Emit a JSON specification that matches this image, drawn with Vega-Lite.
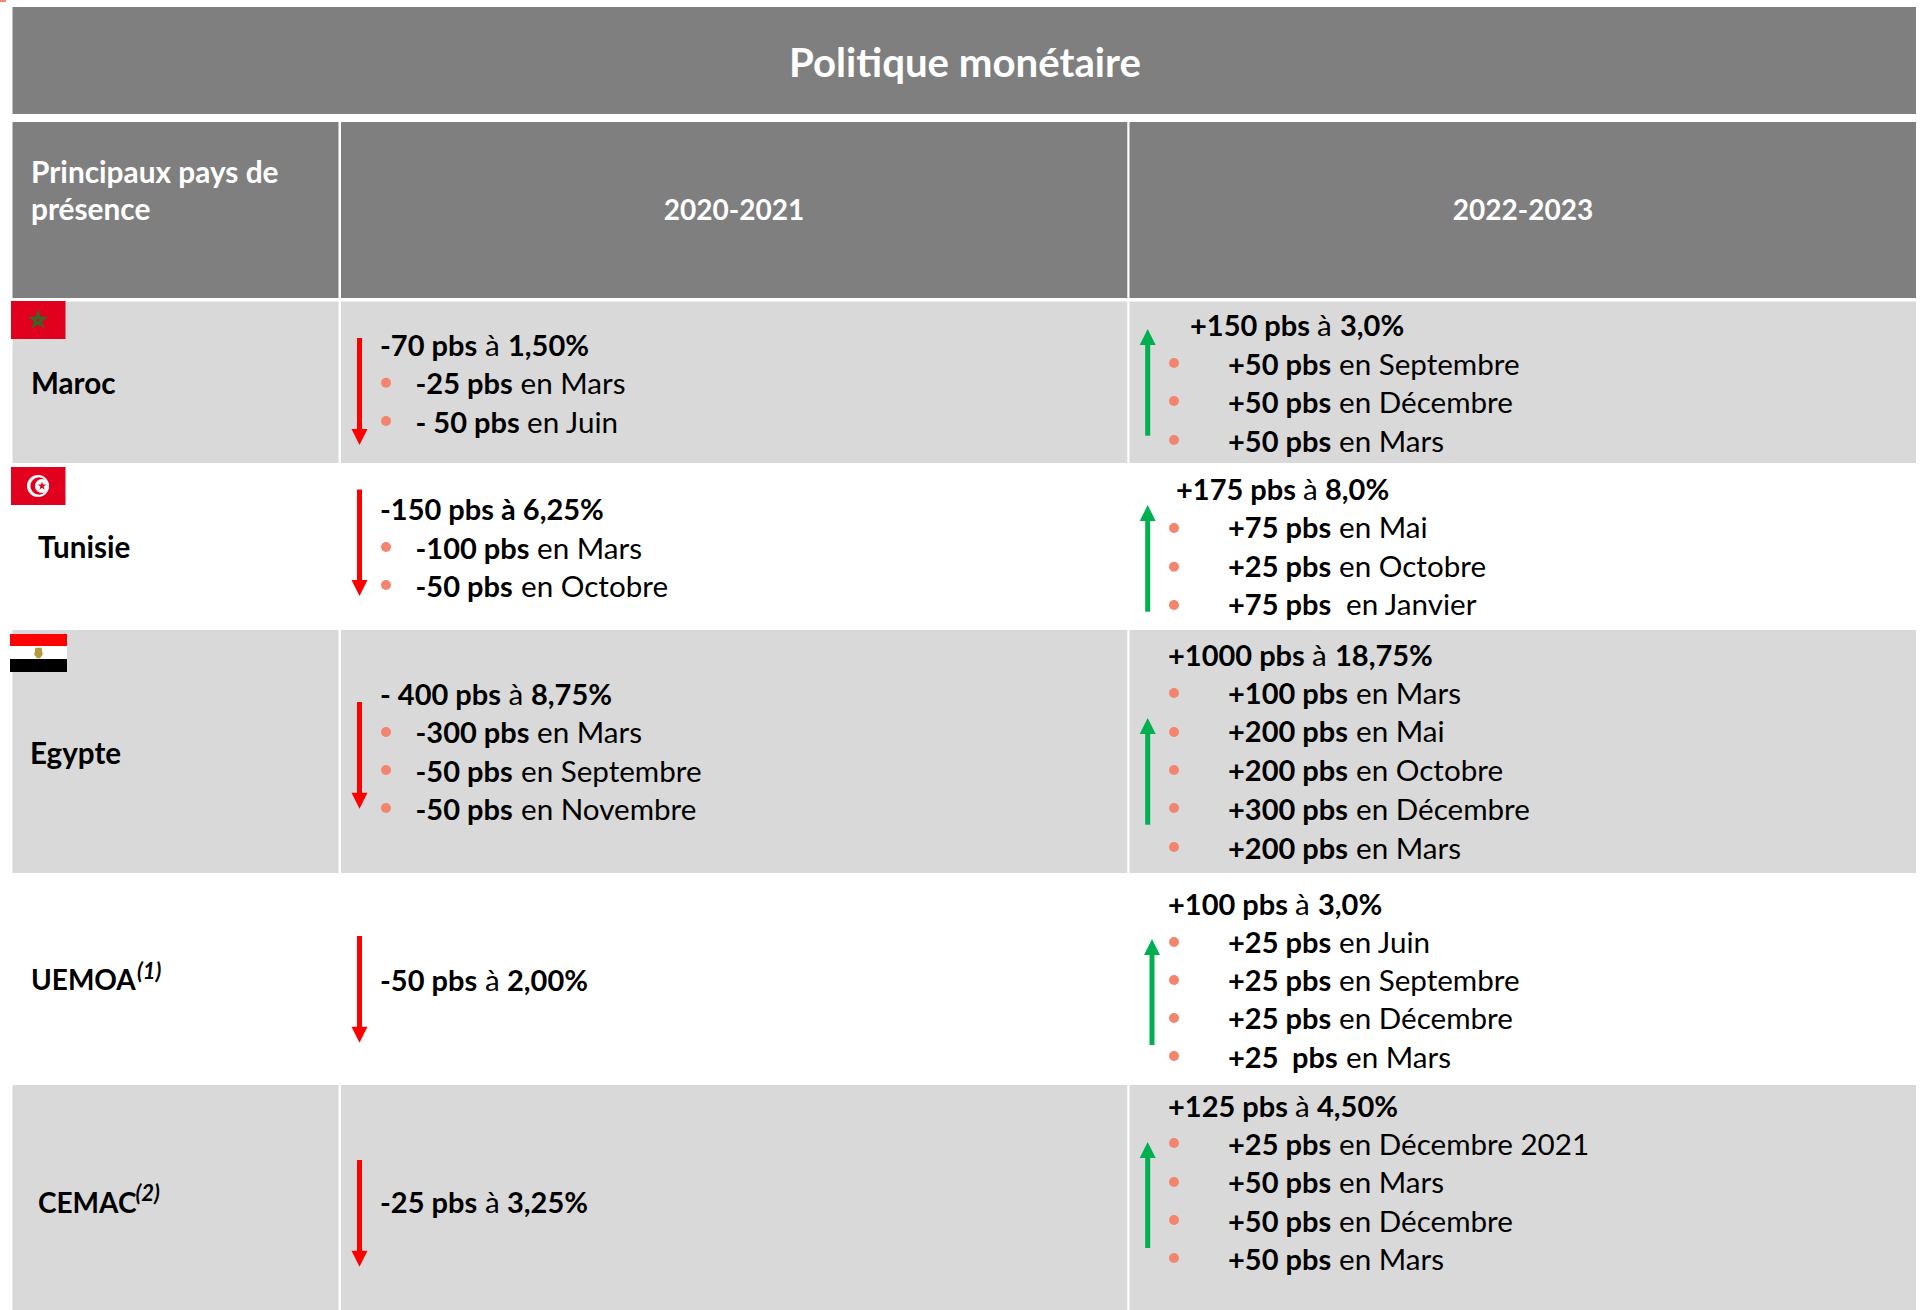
{
"$schema":"https://vega.github.io/schema/vega-lite/v6.json",
"width":1921,"height":1310,"padding":0,
"autosize":{"type":"fit","contains":"padding"},
"background":"#ffffff",
"config":{"view":{"stroke":null},"text":{"font":"Lato"}},
"resolve":{"scale":{"color":"independent","shape":"independent"}},
"datasets":{
"cells":[
{"kind":"header","x":12.5,"x2":1916,"y":7,"y2":114},
{"kind":"header","x":12.5,"x2":338.5,"y":122,"y2":298},
{"kind":"header","x":341,"x2":1127.3,"y":122,"y2":298},
{"kind":"header","x":1129.5,"x2":1916,"y":122,"y2":298},
{"kind":"band","x":12.5,"x2":338.5,"y":301.5,"y2":463},
{"kind":"band","x":341,"x2":1127.3,"y":301.5,"y2":463},
{"kind":"band","x":1129.5,"x2":1916,"y":301.5,"y2":463},
{"kind":"band","x":12.5,"x2":338.5,"y":630,"y2":873},
{"kind":"band","x":341,"x2":1127.3,"y":630,"y2":873},
{"kind":"band","x":1129.5,"x2":1916,"y":630,"y2":873},
{"kind":"band","x":12.5,"x2":338.5,"y":1085,"y2":1310},
{"kind":"band","x":341,"x2":1127.3,"y":1085,"y2":1310},
{"kind":"band","x":1129.5,"x2":1916,"y":1085,"y2":1310},
{"kind":"crimson","x":11,"x2":65.5,"y":301,"y2":339},
{"kind":"crimson","x":11,"x2":65.5,"y":467,"y2":505},
{"kind":"red","x":10,"x2":67,"y":634,"y2":646},
{"kind":"white","x":10,"x2":67,"y":646,"y2":659},
{"kind":"black","x":10,"x2":67,"y":659,"y2":672},
{"kind":"corner","x":0,"x2":6,"y":0,"y2":2}
],
"shafts":[
{"dir":"down","x":359.5,"y":338,"y2":432},
{"dir":"down","x":359.5,"y":489.5,"y2":583},
{"dir":"down","x":359.5,"y":702,"y2":796},
{"dir":"down","x":359.5,"y":936,"y2":1030},
{"dir":"down","x":359.5,"y":1160,"y2":1254},
{"dir":"up","x":1147.7,"y":435.7,"y2":342},
{"dir":"up","x":1147.7,"y":611.7,"y2":518},
{"dir":"up","x":1147.7,"y":824.7,"y2":731},
{"dir":"up","x":1152,"y":1045,"y2":952},
{"dir":"up","x":1147.7,"y":1248,"y2":1155}
],
"heads":[
{"dir":"down","x":359.5,"y":445},
{"dir":"down","x":359.5,"y":596},
{"dir":"down","x":359.5,"y":808.7},
{"dir":"down","x":359.5,"y":1042.7},
{"dir":"down","x":359.5,"y":1266.7},
{"dir":"up","x":1147.7,"y":329},
{"dir":"up","x":1147.7,"y":505},
{"dir":"up","x":1147.7,"y":718},
{"dir":"up","x":1152,"y":939},
{"dir":"up","x":1147.7,"y":1142}
],
"bullets":[
{"x":386,"y":382.7},{"x":386,"y":421},{"x":386,"y":547},{"x":386,"y":585},{"x":386,"y":732},{"x":386,"y":770},{"x":386,"y":808},
{"x":1174,"y":363},{"x":1174,"y":401},{"x":1174,"y":440},{"x":1174,"y":528},{"x":1174,"y":566.7},{"x":1174,"y":605},
{"x":1174,"y":693},{"x":1174,"y":732},{"x":1174,"y":770},{"x":1174,"y":808},{"x":1174,"y":847},
{"x":1174,"y":942},{"x":1174,"y":980},{"x":1174,"y":1018},{"x":1174,"y":1056},
{"x":1174,"y":1143},{"x":1174,"y":1182},{"x":1174,"y":1220},{"x":1174,"y":1258}
],
"bold":[
{"x":381,"y":356,"t":"-70 pbs"},{"x":509,"y":356,"t":"1,50%"},
{"x":416.5,"y":394,"t":"-25 pbs"},{"x":416.5,"y":433,"t":"- 50 pbs"},
{"x":381,"y":520,"t":"-150 pbs à 6,25%"},
{"x":416.5,"y":559,"t":"-100 pbs"},{"x":416.5,"y":597,"t":"-50 pbs"},
{"x":381,"y":705,"t":"- 400 pbs"},{"x":532,"y":705,"t":"8,75%"},
{"x":416.5,"y":743,"t":"-300 pbs"},{"x":416.5,"y":782,"t":"-50 pbs"},{"x":416.5,"y":820,"t":"-50 pbs"},
{"x":381,"y":991,"t":"-50 pbs"},{"x":508,"y":991,"t":"2,00%"},
{"x":381,"y":1213,"t":"-25 pbs"},{"x":508,"y":1213,"t":"3,25%"},
{"x":1191,"y":336,"t":"+150 pbs"},{"x":1341,"y":336,"t":"3,0%"},
{"x":1229,"y":375,"t":"+50 pbs"},{"x":1229,"y":413,"t":"+50 pbs"},{"x":1229,"y":452,"t":"+50 pbs"},
{"x":1177,"y":500,"t":"+175 pbs"},{"x":1326,"y":500,"t":"8,0%"},
{"x":1229,"y":538,"t":"+75 pbs"},{"x":1229,"y":577,"t":"+25 pbs"},{"x":1229,"y":615,"t":"+75 pbs"},
{"x":1169,"y":666,"t":"+1000 pbs"},{"x":1336,"y":666,"t":"18,75%"},
{"x":1229,"y":704,"t":"+100 pbs"},{"x":1229,"y":742,"t":"+200 pbs"},{"x":1229,"y":781,"t":"+200 pbs"},{"x":1229,"y":819.5,"t":"+300 pbs"},{"x":1229,"y":858.5,"t":"+200 pbs"},
{"x":1169,"y":915,"t":"+100 pbs"},{"x":1319,"y":915,"t":"3,0%"},
{"x":1229,"y":953,"t":"+25 pbs"},{"x":1229,"y":991,"t":"+25 pbs"},{"x":1229,"y":1029,"t":"+25 pbs"},{"x":1229,"y":1068,"t":"+25"},{"x":1293,"y":1068,"t":"pbs"},
{"x":1169,"y":1117,"t":"+125 pbs"},{"x":1318,"y":1117,"t":"4,50%"},
{"x":1229,"y":1155,"t":"+25 pbs"},{"x":1229,"y":1193,"t":"+50 pbs"},{"x":1229,"y":1232,"t":"+50 pbs"},{"x":1229,"y":1270,"t":"+50 pbs"}
],
"regular":[
{"x":486,"y":356,"t":"à"},{"x":521.5,"y":394,"t":"en Mars"},{"x":528,"y":433,"t":"en Juin"},
{"x":538,"y":559,"t":"en Mars"},{"x":522,"y":597,"t":"en Octobre"},
{"x":509.5,"y":705,"t":"à"},{"x":538,"y":743,"t":"en Mars"},{"x":522,"y":782,"t":"en Septembre"},{"x":522,"y":820,"t":"en Novembre"},
{"x":486,"y":991,"t":"à"},{"x":486,"y":1213,"t":"à"},
{"x":1318,"y":336,"t":"à"},{"x":1340,"y":375,"t":"en Septembre"},{"x":1340,"y":413,"t":"en Décembre"},{"x":1340,"y":452,"t":"en Mars"},
{"x":1304,"y":500,"t":"à"},{"x":1340,"y":538,"t":"en Mai"},{"x":1340,"y":577,"t":"en Octobre"},{"x":1347,"y":615,"t":"en Janvier"},
{"x":1313,"y":666,"t":"à"},{"x":1357,"y":704,"t":"en Mars"},{"x":1357,"y":742,"t":"en Mai"},{"x":1357,"y":781,"t":"en Octobre"},{"x":1357,"y":819.5,"t":"en Décembre"},{"x":1357,"y":858.5,"t":"en Mars"},
{"x":1296,"y":915,"t":"à"},{"x":1340,"y":953,"t":"en Juin"},{"x":1340,"y":991,"t":"en Septembre"},{"x":1340,"y":1029,"t":"en Décembre"},{"x":1347,"y":1068,"t":"en Mars"},
{"x":1296,"y":1117,"t":"à"},{"x":1340,"y":1155,"t":"en Décembre 2021"},{"x":1340,"y":1193,"t":"en Mars"},{"x":1340,"y":1232,"t":"en Décembre"},{"x":1340,"y":1270,"t":"en Mars"}
]
},
"encoding":{
"x":{"field":"x","type":"quantitative","scale":{"domain":[0,1921],"nice":false,"zero":false},"axis":null},
"y":{"field":"y","type":"quantitative","scale":{"domain":[1310,0],"nice":false,"zero":false},"axis":null}
},
"layer":[
{"data":{"name":"cells"},"mark":{"type":"rect"},"encoding":{"x2":{"field":"x2"},"y2":{"field":"y2"},
"color":{"field":"kind","type":"nominal","legend":null,"scale":{"domain":["header","band","crimson","red","white","black","corner"],"range":["#7F7F7F","#D9D9D9","#E2001F","#FF0000","#FFFFFF","#000000","#F4846D"]}}}},
{"data":{"values":[{"x":38,"y":320}]},"mark":{"type":"point","shape":"M0,-1L0.588,0.809L-0.951,-0.309L0.951,-0.309L-0.588,0.809Z","filled":false,"stroke":"#2E6B2A","strokeWidth":2,"size":225,"opacity":1}},
{"data":{"values":[{"x":38,"y":486}]},"mark":{"type":"circle","color":"#FFFFFF","size":484,"opacity":1}},
{"data":{"values":[{"x":39,"y":486}]},"mark":{"type":"circle","color":"#E2001F","size":300,"opacity":1}},
{"data":{"values":[{"x":42,"y":486}]},"mark":{"type":"circle","color":"#FFFFFF","size":196,"opacity":1}},
{"data":{"values":[{"x":42,"y":486}]},"mark":{"type":"point","shape":"M0,-1L0.588,0.809L-0.951,-0.309L0.951,-0.309L-0.588,0.809Z","filled":true,"color":"#E2001F","size":81,"opacity":1}},
{"data":{"values":[{"x":38.5,"y":653}]},"mark":{"type":"point","shape":"M-0.6,-1L0.6,-1L0.8,0.3L0.3,1L-0.3,1L-0.8,0.3Z","filled":true,"color":"#B39A3C","size":110,"opacity":1}},
{"data":{"name":"shafts"},"mark":{"type":"rule","strokeWidth":5},"encoding":{"y2":{"field":"y2"},
"color":{"field":"dir","type":"nominal","legend":null,"scale":{"domain":["down","up"],"range":["#FF0000","#00B050"]}}}},
{"data":{"name":"heads"},"mark":{"type":"point","filled":true,"size":256,"opacity":1,"strokeWidth":0},"encoding":{
"shape":{"field":"dir","type":"nominal","legend":null,"scale":{"domain":["down","up"],"range":["M-1,-2L1,-2L0,0Z","M-1,2L1,2L0,0Z"]}},
"color":{"field":"dir","type":"nominal","legend":null,"scale":{"domain":["down","up"],"range":["#FF0000","#00B050"]}}}},
{"data":{"name":"bullets"},"mark":{"type":"circle","color":"#F4846D","size":100,"opacity":1}},
{"data":{"name":"bold"},"mark":{"type":"text","font":"Lato","fontWeight":"bold","fontSize":29,"align":"left","baseline":"alphabetic","color":"#000000","dx":-1},"encoding":{"text":{"field":"t"}}},
{"data":{"name":"regular"},"mark":{"type":"text","font":"Lato","fontWeight":"normal","fontSize":29.6,"align":"left","baseline":"alphabetic","color":"#000000","dx":-1},"encoding":{"text":{"field":"t"}}},
{"data":{"values":[{"x":31,"y":394,"t":"Maroc"},{"x":38,"y":558,"t":"Tunisie"},{"x":30,"y":764,"t":"Egypte"}]},"mark":{"type":"text","font":"Lato","fontWeight":"bold","fontSize":29.6,"align":"left","baseline":"alphabetic","color":"#000000"},"encoding":{"text":{"field":"t"}}},
{"data":{"values":[{"x":31,"y":990,"t":"UEMOA"},{"x":38,"y":1213,"t":"CEMAC"}]},"mark":{"type":"text","font":"Lato","fontWeight":"bold","fontSize":28,"align":"left","baseline":"alphabetic","color":"#000000"},"encoding":{"text":{"field":"t"}}},
{"data":{"values":[{"x":137,"y":979,"t":"(1)"},{"x":135.5,"y":1201,"t":"(2)"}]},"mark":{"type":"text","font":"Lato","fontWeight":"bold","fontStyle":"italic","fontSize":22,"align":"left","baseline":"alphabetic","color":"#000000"},"encoding":{"text":{"field":"t"}}},
{"data":{"values":[{"x":31,"y":183,"t":"Principaux pays de"},{"x":31,"y":220,"t":"présence"}]},"mark":{"type":"text","font":"Lato","fontWeight":"bold","fontSize":29.8,"align":"left","baseline":"alphabetic","color":"#FFFFFF"},"encoding":{"text":{"field":"t"}}},
{"data":{"values":[{"x":734,"y":220,"t":"2020-2021"},{"x":1523,"y":220,"t":"2022-2023"}]},"mark":{"type":"text","font":"Lato","fontWeight":"bold","fontSize":28,"align":"center","baseline":"alphabetic","color":"#FFFFFF"},"encoding":{"text":{"field":"t"}}},
{"data":{"values":[{"x":965,"y":77,"t":"Politique monétaire"}]},"mark":{"type":"text","font":"Lato","fontWeight":"bold","fontSize":40.2,"align":"center","baseline":"alphabetic","color":"#FFFFFF"},"encoding":{"text":{"field":"t"}}}
]
}
